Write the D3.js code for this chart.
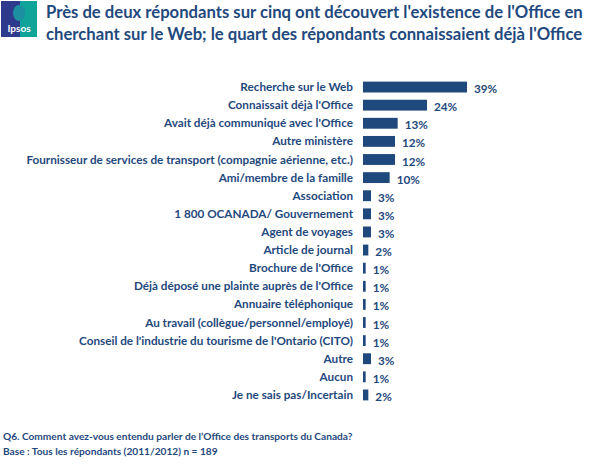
<!DOCTYPE html>
<html><head><meta charset="utf-8">
<script src="https://cdn.jsdelivr.net/npm/d3@7/dist/d3.min.js"></script>
<style>body{margin:0;background:#fff}svg{display:block}</style>
</head><body>
<svg id="c" width="590" height="465"></svg>
<script>
const categories = [
  "Recherche sur le Web",
  "Connaissait déjà l'Office",
  "Avait déjà communiqué avec l'Office",
  "Autre ministère",
  "Fournisseur de services de transport (compagnie aérienne, etc.)",
  "Ami/membre de la famille",
  "Association",
  "1 800 OCANADA/ Gouvernement",
  "Agent de voyages",
  "Article de journal",
  "Brochure de l'Office",
  "Déjà déposé une plainte auprès de l'Office",
  "Annuaire téléphonique",
  "Au travail (collègue/personnel/employé)",
  "Conseil de l'industrie du tourisme de l'Ontario (CITO)",
  "Autre",
  "Aucun",
  "Je ne sais pas/Incertain"
];
const values = [39, 24, 13, 12, 12, 10, 3, 3, 3, 2, 1, 1, 1, 1, 1, 3, 1, 2];
const titleLines = [
  "Près de deux répondants sur cinq ont découvert l'existence de l'Office en",
  "cherchant sur le Web; le quart des répondants connaissaient déjà l'Office"
];
const footnotes = [
  "Q6. Comment avez-vous entendu parler de l\u2019Office des transports du Canada?",
  "Base : Tous les répondants (2011/2012) n = 189"
];

const svg = d3.select("#c");
const blue = "#1F497D";
const font = "Lato, 'Open Sans', sans-serif";

// fit a selection's font size so its widest text equals target width
function fit(sel, size, target) {
  sel.attr("font-size", size);
  let w = 0;
  sel.each(function () { w = Math.max(w, this.getComputedTextLength()); });
  sel.attr("font-size", size * target / w);
}

// logo
const logo = svg.append("g");
logo.append("rect").attr("x", 1).attr("y", 1).attr("width", 36).attr("height", 36).attr("fill", "#2E3A8C");
logo.append("rect").attr("x", 20).attr("y", 1).attr("width", 17).attr("height", 36).attr("fill", "#0FA39A");
logo.append("ellipse").attr("cx", 19).attr("cy", 13).attr("rx", 6).attr("ry", 8).attr("fill", "#1C8FA0");
logo.append("text").attr("x", 19).attr("y", 32).attr("text-anchor", "middle")
  .attr("fill", "#fff").attr("font-family", font).attr("font-weight", "bold").attr("font-size", 10).text("Ipsos");

// title
const title = svg.append("g").selectAll("text").data(titleLines).join("text")
  .attr("x", 46).attr("y", (d, i) => 18 + i * 22)
  .attr("fill", blue).attr("font-family", font).attr("font-weight", "bold")
  .text(d => d);
fit(title, 17, 537);

const x0 = 363;
const x = d3.scaleLinear().domain([0, 39]).range([x0, x0 + 104]);
const y = d3.scaleBand().domain(categories).range([78, 404]).paddingInner(0.4).paddingOuter(0.2);

const g = svg.append("g");
g.selectAll("rect.bar").data(categories).join("rect").attr("class", "bar")
  .attr("x", x0).attr("y", d => y(d))
  .attr("width", (d, i) => x(values[i]) - x0).attr("height", y.bandwidth())
  .attr("fill", blue);

const cats = g.selectAll("text.cat").data(categories).join("text").attr("class", "cat")
  .attr("x", 353).attr("y", d => y(d) + y.bandwidth() / 2).attr("dy", "0.35em")
  .attr("text-anchor", "end").attr("fill", blue).attr("font-family", font)
  .attr("font-weight", "bold").text(d => d);
fit(cats, 12, 327);

const vals = g.selectAll("text.val").data(categories).join("text").attr("class", "val")
  .attr("x", (d, i) => x(values[i]) + 7).attr("y", d => y(d) + y.bandwidth() / 2 + 2).attr("dy", "0.35em")
  .attr("fill", blue).attr("font-family", font)
  .attr("font-weight", "bold").text((d, i) => values[i] + "%");
vals.attr("font-size", cats.attr("font-size"));

const foot = svg.append("g").selectAll("text").data(footnotes).join("text")
  .attr("x", 3).attr("y", (d, i) => 440 + i * 15)
  .attr("fill", blue).attr("font-family", font).attr("font-weight", "bold")
  .text(d => d);
fit(foot, 11, 350);
</script>
</body></html>
